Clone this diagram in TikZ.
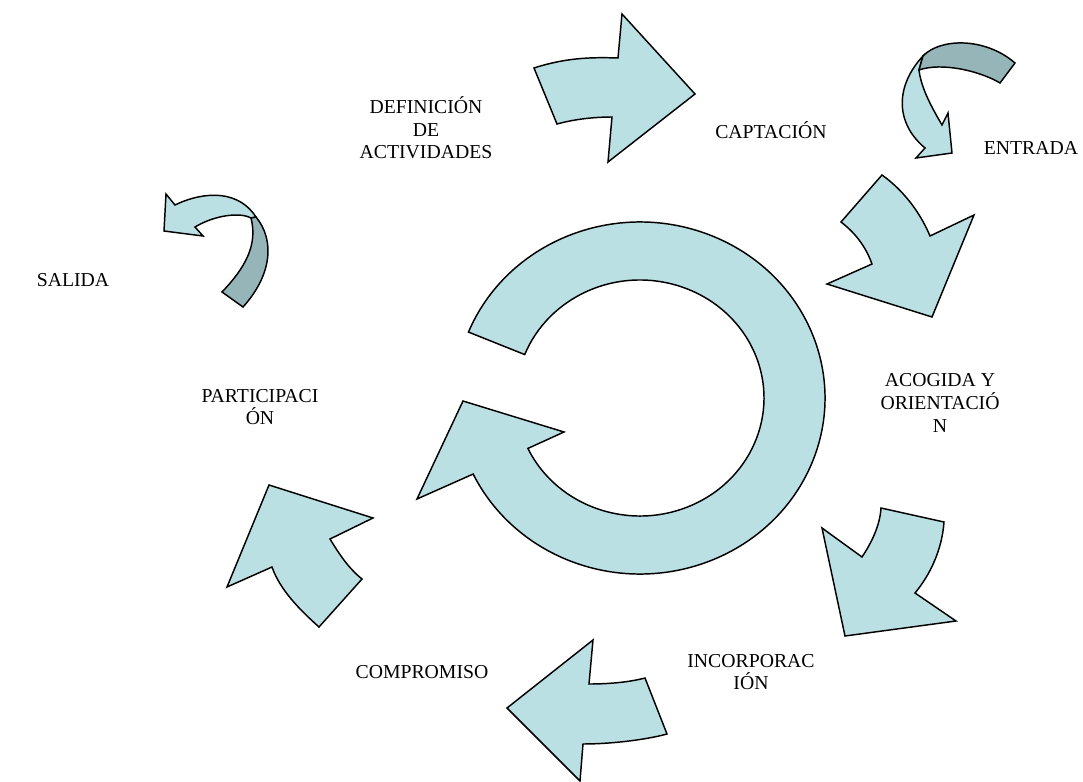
\documentclass[tikz,border=0pt]{standalone}
\usepackage{fontspec}
\setmainfont{Liberation Serif}
\usetikzlibrary{calc}
\definecolor{lightfill}{RGB}{187,224,227}
\definecolor{darkfill}{RGB}{149,181,184}
\begin{document}
\begin{tikzpicture}[x=0.75pt,y=-0.75pt,
  arrowbody/.style={fill=lightfill,draw=black,line width=1.1pt,line join=miter},
  backbody/.style={fill=darkfill,draw=black,line width=1.1pt,line join=miter},
  lbl/.style={font=\fontsize{14.8}{17}\selectfont,align=center,inner sep=0pt}]
\useasboundingbox (0,0) rectangle (1083,782);
% central circular arrow
\coordinate (C) at (640,398);
\draw[arrowbody] ($(C)+(-158:185 and 176)$) arc[start angle=-158,end angle=154.4,x radius=185,y radius=176]
  -- (417,499) -- (463,401) -- (564,432)
  -- ($(C)+(154.7:124 and 118)$) arc[start angle=154.7,end angle=-158.4,x radius=124,y radius=118] -- cycle;
% top arrow (to CAPTACION)
\draw[arrowbody] (534,68) .. controls (565,58) and (590,57) .. (618,58) -- (622,14) -- (695,94) -- (608,162)
  -- (612,117) .. controls (595,117) and (575,119) .. (557,124) -- cycle;
% curved arrow ENTRADA
\draw[arrowbody] (923,56) .. controls (896,85) and (894,122) .. (925,148) -- (916,158) -- (952,153) -- (948,113)
  -- (942,125) .. controls (932,108) and (921,88) .. (919,70) -- cycle;
\draw[backbody] (923,56) .. controls (940,38) and (985,37) .. (1015,63) -- (1000,83)
  .. controls (980,71) and (942,62) .. (919,70) -- cycle;
% arrow to ACOGIDA
\draw[arrowbody] (882,175) -- (841,222) .. controls (858,235) and (867,250) .. (872,264) -- (827,284) -- (932,317)
  -- (974,215) -- (930,236) .. controls (920,212) and (903,190) .. (882,175) -- cycle;
% arrow to INCORPORACION
\draw[arrowbody] (881,508) -- (944,522) .. controls (942,550) and (930,575) .. (915,593) -- (956,621) -- (845,636)
  -- (822,528) -- (862,557) .. controls (872,542) and (880,525) .. (881,508) -- cycle;
% arrow to COMPROMISO
\draw[arrowbody] (593,640) -- (589,684) .. controls (610,684) and (630,682) .. (645,678) -- (667,734)
  .. controls (645,740) and (610,744) .. (583,744) -- (580,781) -- (507,708) -- cycle;
% arrow to PARTICIPACION
\draw[arrowbody] (269,485) -- (373,518) -- (330,539) .. controls (338,552) and (348,568) .. (362,579) -- (319,627)
  .. controls (300,610) and (280,590) .. (272,567) -- (227,587) -- cycle;
% curved arrow SALIDA
\draw[arrowbody] (166,194) -- (175,205) .. controls (195,195) and (235,185) .. (256,217) -- (251,218)
  .. controls (240,212) and (215,215) .. (195,227) -- (203,236) -- (164,231) -- cycle;
\draw[backbody] (256,217) .. controls (275,240) and (272,275) .. (243,307) -- (222,292)
  .. controls (245,268) and (258,245) .. (251,218) -- cycle;
% labels
\node[lbl] (def) at (426,128) {DEFINICIÓN\\DE\\ACTIVIDADES};
\node[lbl] (cap) at (771,130) {CAPTACIÓN};
\node[lbl] (ent) at (1031,148) {ENTRADA};
\node[lbl] (sal) at (73,280) {SALIDA};
\node[lbl] (par) at (260,407) {PARTICIPACI\\ÓN};
\node[lbl] (aco) at (940,403) {ACOGIDA Y\\ORIENTACIÓ\\N};
\node[lbl] (inc) at (751,672) {INCORPORAC\\IÓN};
\node[lbl] (com) at (422,672) {COMPROMISO};
\end{tikzpicture}
\end{document}
